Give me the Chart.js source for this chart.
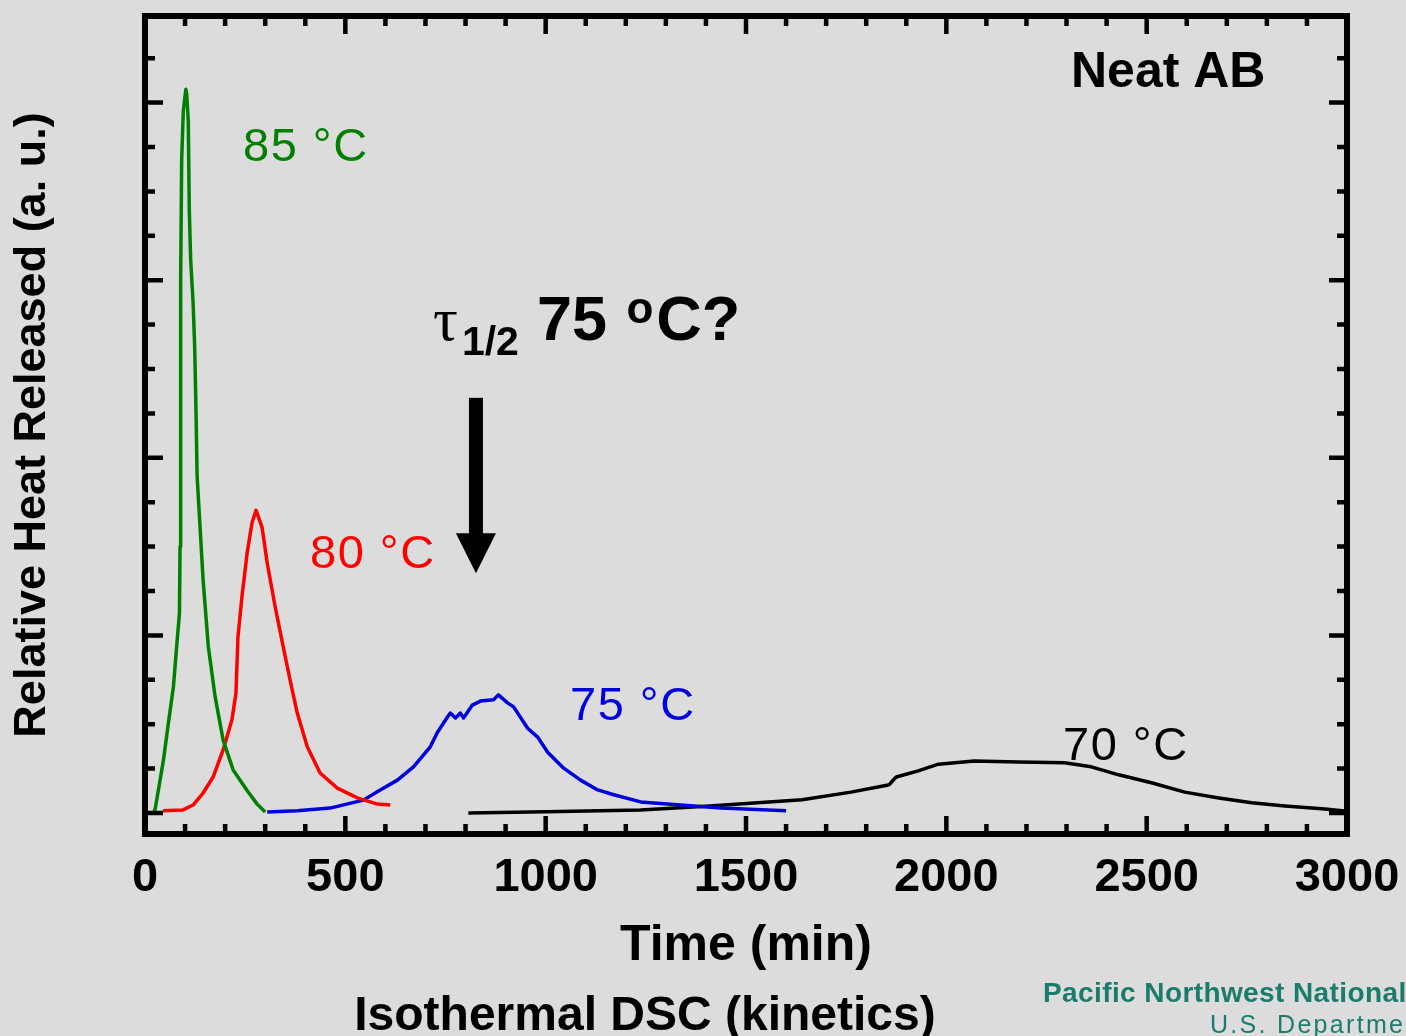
<!DOCTYPE html>
<html>
<head>
<meta charset="utf-8">
<script src="https://cdn.jsdelivr.net/npm/chart.js@4.4.1/dist/chart.umd.min.js"></script>
<style>
  html, body { margin: 0; padding: 0; background: #dcdcdc; }
  #wrap { width: 1406px; height: 1036px; position: relative; }
</style>
</head>
<body>
<div id="wrap"><canvas id="myChart"></canvas></div>
<script>
// 85 °C run (green)
const time85 = [20, 25, 35, 46, 58, 71, 79, 86, 87.5, 88.5, 89, 89.5, 91.5, 95.5, 102, 104, 108, 110.5, 114, 120, 124, 127, 130, 137, 145, 158, 175, 195, 220, 254, 280, 300];
const heat85 = [0, 0.07, 0.6, 1.19, 2.0, 2.85, 3.75, 4.5, 6.0, 8.0, 10.0, 12.0, 14.7, 15.8, 16.3, 16.2, 15.6, 13.6, 12.45, 11.5, 10.5, 9.2, 7.6, 6.5, 5.25, 3.75, 2.62, 1.64, 0.97, 0.52, 0.2, 0.02];
// 80 °C run (red)
const time80 = [45, 95, 120, 145, 170, 195, 217, 227, 232, 242, 255, 267, 277, 292, 305, 325, 345, 362, 380, 405, 437, 480, 530, 580, 612];
const heat80 = [0.05, 0.07, 0.18, 0.45, 0.81, 1.42, 2.1, 2.7, 3.96, 4.87, 5.86, 6.53, 6.82, 6.44, 5.63, 4.64, 3.74, 3.0, 2.25, 1.49, 0.9, 0.56, 0.34, 0.2, 0.18];
// 75 °C run (blue)
const time75 = [305, 380, 462, 545, 587, 630, 670, 712, 730, 755, 762, 775, 787, 795, 817, 837, 870, 882, 905, 920, 955, 980, 1005, 1045, 1087, 1130, 1170, 1237, 1337, 1437, 1600];
const heat75 = [0.02, 0.05, 0.11, 0.29, 0.52, 0.74, 1.04, 1.49, 1.82, 2.16, 2.25, 2.14, 2.25, 2.14, 2.43, 2.52, 2.55, 2.66, 2.48, 2.39, 1.91, 1.71, 1.37, 1.01, 0.74, 0.52, 0.41, 0.25, 0.18, 0.11, 0.05];
// 70 °C run (black)
const time70 = [807, 1000, 1237, 1400, 1640, 1762, 1855, 1860, 1867, 1875, 1930, 1980, 2070, 2180, 2295, 2362, 2430, 2512, 2595, 2680, 2762, 2845, 2945, 3000];
const heat70 = [0.0, 0.03, 0.07, 0.15, 0.3, 0.47, 0.63, 0.66, 0.74, 0.81, 0.95, 1.1, 1.17, 1.15, 1.13, 1.04, 0.86, 0.68, 0.47, 0.34, 0.23, 0.16, 0.09, 0.04];

const runLabels = ['85 °C', '80 °C', '75 °C', '70 °C'];
const runColors = ['#008000', '#ff0000', '#0000dd', '#000000'];
const xTicks = [0, 500, 1000, 1500, 2000, 2500, 3000];

// arrow marking tau 1/2 at 75 °C: time, top, head base, tip
const arrowTime = 826;
const arrowHeat = [9.35, 6.3, 5.4];

const FONT = "'Liberation Sans', Arial, sans-serif";

function toPoints(xs, ys) {
  const pts = [];
  for (let i = 0; i < xs.length; i++) {
    pts.push({ x: xs[i], y: ys[i] });
  }
  return pts;
}

const runs = [[time85, heat85], [time80, heat80], [time75, heat75], [time70, heat70]];
const datasets = runs.map((r, i) => ({
  label: runLabels[i],
  data: toPoints(r[0], r[1]),
  showLine: true,
  borderColor: runColors[i],
  borderWidth: 3.5,
  borderJoinStyle: 'round',
  pointRadius: 0,
  tension: 0,
}));

// background
const bgPlugin = {
  id: 'bg',
  beforeDraw(chart) {
    const ctx = chart.ctx;
    ctx.save();
    ctx.fillStyle = '#dcdcdc';
    ctx.fillRect(0, 0, chart.width, chart.height);
    ctx.restore();
  },
};

// frame box with inward ticks on all four sides
const framePlugin = {
  id: 'frame',
  afterDatasetsDraw(chart) {
    const { ctx, chartArea: a } = chart;
    const xs = chart.scales.x;
    const ys = chart.scales.y;
    ctx.save();
    ctx.strokeStyle = '#000';
    ctx.lineWidth = 4.5;
    ctx.beginPath();
    for (let v = 0; v <= 3000; v += 100) {
      const px = xs.getPixelForValue(v);
      const len = v % 500 === 0 ? 18 : 10;
      ctx.moveTo(px, a.bottom);
      ctx.lineTo(px, a.bottom - len);
      ctx.moveTo(px, a.top);
      ctx.lineTo(px, a.top + len);
    }
    for (let v = 0; v <= 17; v++) {
      const py = ys.getPixelForValue(v);
      const len = v % 4 === 0 ? 18 : 10;
      ctx.moveTo(a.left, py);
      ctx.lineTo(a.left + len, py);
      ctx.moveTo(a.right, py);
      ctx.lineTo(a.right - len, py);
    }
    ctx.stroke();
    ctx.lineWidth = 6;
    ctx.strokeRect(a.left, a.top, a.right - a.left, a.bottom - a.top);
    ctx.restore();
  },
};

// labels, arrow and footer text
const notesPlugin = {
  id: 'notes',
  afterDraw(chart) {
    const ctx = chart.ctx;
    const xs = chart.scales.x;
    const ys = chart.scales.y;
    ctx.save();
    ctx.textBaseline = 'alphabetic';
    ctx.textAlign = 'left';

    ctx.font = '47px ' + FONT;
    ctx.letterSpacing = '1.5px';
    ctx.fillStyle = runColors[0];
    ctx.fillText(runLabels[0], 243, 161);
    ctx.fillStyle = runColors[1];
    ctx.fillText(runLabels[1], 310, 568);
    ctx.fillStyle = runColors[2];
    ctx.fillText(runLabels[2], 570, 720);
    ctx.fillStyle = runColors[3];
    ctx.fillText(runLabels[3], 1063, 760);
    ctx.letterSpacing = '0px';

    ctx.fillStyle = '#000';
    ctx.font = 'bold 50px ' + FONT;
    ctx.fillText('Neat AB', 1071, 87);

    // tau 1/2 75 oC?
    let x = 433;
    ctx.font = "62px 'Liberation Serif', serif";
    ctx.fillText('τ', x, 340);
    x += ctx.measureText('τ').width + 4;
    ctx.font = 'bold 41px ' + FONT;
    ctx.fillText('1/2', x, 355);
    x += ctx.measureText('1/2').width + 18;
    ctx.font = 'bold 63px ' + FONT;
    ctx.fillText('75', x, 340);
    x += ctx.measureText('75 ').width + 2;
    ctx.font = 'bold 44px ' + FONT;
    ctx.fillText('o', x, 323);
    x += ctx.measureText('o').width + 3;
    ctx.font = 'bold 63px ' + FONT;
    ctx.fillText('C?', x, 340);

    // arrow
    const ax = xs.getPixelForValue(arrowTime);
    const yTop = ys.getPixelForValue(arrowHeat[0]);
    const yBase = ys.getPixelForValue(arrowHeat[1]);
    const yTip = ys.getPixelForValue(arrowHeat[2]);
    ctx.fillRect(ax - 7, yTop, 14, yBase - yTop + 1);
    ctx.beginPath();
    ctx.moveTo(ax - 20, yBase);
    ctx.lineTo(ax + 20, yBase);
    ctx.lineTo(ax, yTip);
    ctx.closePath();
    ctx.fill();

    // footer
    ctx.textAlign = 'center';
    ctx.font = 'bold 48px ' + FONT;
    ctx.fillText('Isothermal DSC (kinetics)', 645, 1030);

    ctx.textAlign = 'left';
    ctx.fillStyle = '#1b7c6c';
    ctx.font = 'bold 28px ' + FONT;
    ctx.letterSpacing = '0.4px';
    ctx.fillText('Pacific Northwest National Laboratory', 1043, 1002);
    ctx.font = '25px ' + FONT;
    ctx.letterSpacing = '2.3px';
    ctx.fillText('U.S. Department of Energy', 1210, 1033);
    ctx.letterSpacing = '0px';
    ctx.restore();
  },
};

const ctx = document.getElementById('myChart').getContext('2d');
new Chart(ctx, {
  type: 'scatter',
  data: { datasets: datasets },
  options: {
    responsive: true,
    maintainAspectRatio: false,
    animation: false,
    layout: { padding: { top: 16, right: 59, left: 0, bottom: 0 } },
    plugins: {
      legend: { display: false },
      tooltip: { enabled: false },
    },
    scales: {
      x: {
        type: 'linear',
        min: 0,
        max: 3000,
        afterFit(scale) {
          scale.height = 202;
          scale.paddingLeft = 0;
          scale.paddingRight = 0;
        },
        afterBuildTicks(scale) { scale.ticks = xTicks.map(v => ({ value: v })); },
        grid: { display: false, drawTicks: false },
        border: { display: false },
        ticks: {
          color: '#000',
          padding: 16,
          maxRotation: 0,
          callback: v => String(v),
          font: { family: FONT, size: 47, weight: 'bold' },
        },
        title: {
          display: true,
          text: 'Time (min)',
          color: '#000',
          padding: { top: 0, bottom: 60 },
          font: { family: FONT, size: 50, weight: 'bold' },
        },
      },
      y: {
        type: 'linear',
        min: -0.473,
        max: 17.95,
        afterFit(scale) { scale.width = 145; },
        grid: { display: false, drawTicks: false },
        border: { display: false },
        ticks: { display: false },
        title: {
          display: true,
          text: 'Relative Heat Released (a. u.)',
          color: '#000',
          padding: { top: 6, bottom: 0 },
          font: { family: FONT, size: 45, weight: 'bold' },
        },
      },
    },
  },
  plugins: [bgPlugin, framePlugin, notesPlugin],
});
</script>
</body>
</html>
